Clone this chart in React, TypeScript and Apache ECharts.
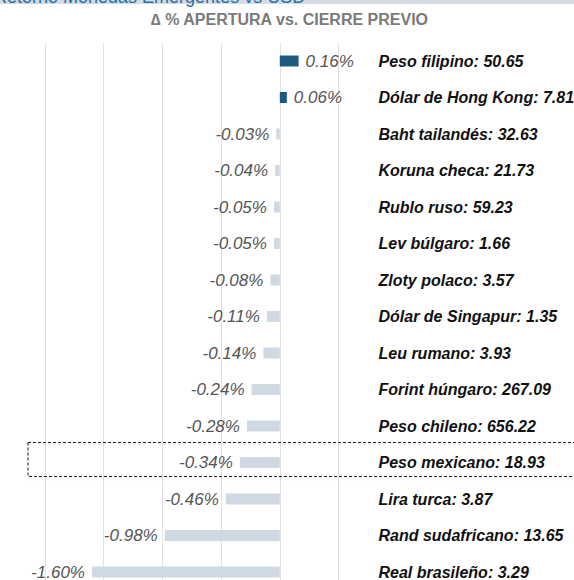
import React, { useEffect, useRef } from "react";
import * as echarts from "echarts";

const currencies = [
  "Peso filipino",
  "Dólar de Hong Kong",
  "Baht tailandés",
  "Koruna checa",
  "Rublo ruso",
  "Lev búlgaro",
  "Zloty polaco",
  "Dólar de Singapur",
  "Leu rumano",
  "Forint húngaro",
  "Peso chileno",
  "Peso mexicano",
  "Lira turca",
  "Rand sudafricano",
  "Real brasileño",
];
const rates = ["50.65", "7.81", "32.63", "21.73", "59.23", "1.66", "3.57", "1.35", "3.93", "267.09", "656.22", "18.93", "3.87", "13.65", "3.29"];
const changes = [0.16, 0.06, -0.03, -0.04, -0.05, -0.05, -0.08, -0.11, -0.14, -0.24, -0.28, -0.34, -0.46, -0.98, -1.6];
const highlighted = "Peso mexicano";
const titleText = "Retorno Monedas Emergentes vs USD";
const subtitleText = "∆ % APERTURA vs. CIERRE PREVIO";

const FONT = "'Liberation Sans', Arial, Helvetica, sans-serif";

export default function App() {
  const ref = useRef<HTMLDivElement>(null);
  useEffect(() => {
    if (!ref.current) return;
    const chart = echarts.init(ref.current, undefined, { renderer: "svg" });
    const labels = currencies.map((c, i) => `${c}: ${rates[i]}`);
    const baseGraphics = [
      { type: "rect", shape: { x: 0, y: 0, width: 574, height: 4 }, style: { fill: "#d3dbe4" }, z: 1 },
      {
        type: "text",
        x: -6,
        y: 6,
        style: {
          text: titleText,
          fontFamily: FONT,
          fontSize: 18,
          fill: "#2b6fa3",
          verticalAlign: "bottom",
          align: "left",
        },
        z: 2,
      },
      {
        type: "text",
        x: 289.5,
        y: 19,
        style: {
          text: subtitleText,
          fontFamily: FONT,
          fontSize: 16,
          fontWeight: "bold",
          fill: "#7a7a7a",
          verticalAlign: "middle",
          align: "center",
        },
      },
    ];
    chart.setOption({
      animation: false,
      backgroundColor: "#ffffff",
      grid: { left: 45, width: 293.5, top: 42.75, height: 547.5, containLabel: false, outerBoundsMode: "none" },
      xAxis: {
        type: "value",
        min: -2,
        max: 0.5,
        interval: 0.5,
        axisLabel: { show: false },
        axisLine: { show: false },
        axisTick: { show: false },
        splitLine: { show: true, lineStyle: { color: "#e2e2e2", width: 1 } },
      },
      yAxis: {
        type: "category",
        data: labels,
        inverse: true,
        position: "right",
        axisLine: { show: false },
        axisTick: { show: false },
        splitLine: { show: false },
        axisLabel: {
          margin: 40,
          fontFamily: FONT,
          fontSize: 16,
          fontWeight: "bold",
          fontStyle: "italic",
          color: "#111111",
          align: "left",
        },
      },
      series: [
        {
          type: "bar",
          barWidth: 11,
          data: changes.map((v) => ({
            value: v,
            itemStyle: { color: v >= 0 ? "#1d5b7e" : "#cfd9e4" },
            label: {
              show: true,
              position: v >= 0 ? "right" : "left",
              distance: 7,
              formatter: () => `${v.toFixed(2)}%`,
              fontFamily: FONT,
              fontSize: 17,
              fontStyle: "italic",
              color: "#555555",
            },
          })),
        },
      ],
      graphic: baseGraphics,
    });
    const idx = currencies.indexOf(highlighted);
    const yc = chart.convertToPixel({ yAxisIndex: 0 }, labels[idx]) as number;
    chart.setOption({
      graphic: [
        ...baseGraphics,
        {
          type: "rect",
          shape: { x: 28, y: yc - 20, width: 560, height: 34 },
          style: {
            fill: "none",
            stroke: "#222222",
            lineWidth: 1,
            lineDash: [3, 2],
            shadowBlur: 3,
            shadowColor: "rgba(0,0,0,0.25)",
            shadowOffsetY: 1,
          },
          z: 10,
        },
      ],
    });
    return () => chart.dispose();
  }, []);
  return <div ref={ref} style={{ position: "absolute", left: 0, top: 0, width: 574, height: 580 }} />;
}
